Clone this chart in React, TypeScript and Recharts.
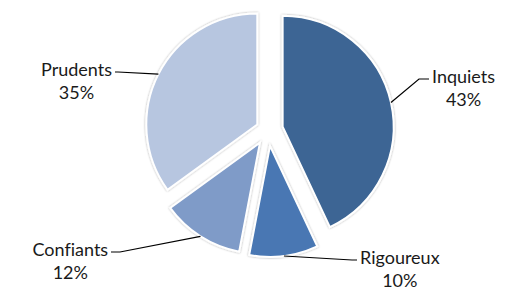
import { PieChart, Pie, Cell, Sector } from "recharts";

const categories = ["Inquiets", "Rigoureux", "Confiants", "Prudents"];
const shares = [43, 10, 12, 35];

const COLORS = ["#3C6594", "#4877B3", "#7F9BC8", "#B7C6E0"];
// how far each slice is pulled out of the pie, in px
const EXPLODE = [15, 16, 15, 12];
// elbow of each leader line, relative to the pie center
const LABEL_ELBOW = [
  [151, -51],
  [84, 130],
  [-148, 122],
  [-150, -58],
];
const LABEL_TAIL = [10, 5, 9, 3];
const FONT = "18px Lato";

const data = categories.map((name, i) => ({ name, value: shares[i] }));

const RADIAN = Math.PI / 180;

let ctx: CanvasRenderingContext2D | null = null;
const textWidth = (s: string) => {
  if (!ctx) ctx = document.createElement("canvas").getContext("2d");
  if (!ctx) return s.length * 9;
  ctx.font = FONT;
  return ctx.measureText(s).width;
};

const sliceIndex = (props: any) => {
  const name = props.name ?? props.payload?.name;
  const i = categories.indexOf(name);
  return i >= 0 ? i : props.index ?? 0;
};

const renderSlice = (props: any) => {
  const i = sliceIndex(props);
  const off = EXPLODE[i];
  const dx = off * Math.cos(-props.midAngle * RADIAN);
  const dy = off * Math.sin(-props.midAngle * RADIAN);
  return (
    <Sector
      {...props}
      cx={props.cx + dx}
      cy={props.cy + dy}
      stroke="#fff"
      strokeWidth={2}
      filter="url(#glow)"
    />
  );
};

const textStyle = { fontVariantLigatures: "none" as const };

const renderLabel = (props: any) => {
  const { cx, cy, midAngle, outerRadius, percent } = props;
  const i = sliceIndex(props);
  const r = outerRadius + EXPLODE[i];
  const sx = cx + r * Math.cos(-midAngle * RADIAN);
  const sy = cy + r * Math.sin(-midAngle * RADIAN);
  const ex = cx + LABEL_ELBOW[i][0];
  const ey = cy + LABEL_ELBOW[i][1];
  const side = ex > cx ? 1 : -1;
  const tx = ex + side * LABEL_TAIL[i];
  const name = categories[i];
  const w = textWidth(name);
  const mid = tx + side * (w / 2 + 3);
  return (
    <g>
      <polyline
        points={`${sx},${sy} ${ex},${ey} ${tx},${ey}`}
        fill="none"
        stroke="#000"
        strokeWidth={1.2}
      />
      <text x={mid} y={ey + 4} textAnchor="middle" fontFamily="Lato" fontSize={18} fill="#1a1a1a" style={textStyle}>
        {name}
      </text>
      <text x={mid} y={ey + 27} textAnchor="middle" fontFamily="Lato" fontSize={18} fill="#1a1a1a" style={textStyle}>
        {`${Math.round(percent * 100)}%`}
      </text>
    </g>
  );
};

export default function App() {
  return (
    <div style={{ position: "absolute", left: 0, top: 0, background: "#fff" }}>
      <PieChart width={523} height={291} margin={{ top: 0, right: 0, bottom: 0, left: 0 }}>
        <defs>
          <filter id="glow" x="-20%" y="-20%" width="140%" height="140%">
            <feDropShadow dx="0" dy="0" stdDeviation="1.2" floodColor="#000" floodOpacity="0.35" />
          </filter>
        </defs>
        <Pie
          data={data}
          dataKey="value"
          nameKey="name"
          cx={268}
          cy={130}
          outerRadius={111}
          startAngle={90}
          endAngle={-270}
          stroke="#fff"
          strokeWidth={2}
          shape={renderSlice}
          label={renderLabel}
          labelLine={false}
          isAnimationActive={false}
        >
          {data.map((d, i) => (
            <Cell key={d.name} fill={COLORS[i]} />
          ))}
        </Pie>
      </PieChart>
    </div>
  );
}
